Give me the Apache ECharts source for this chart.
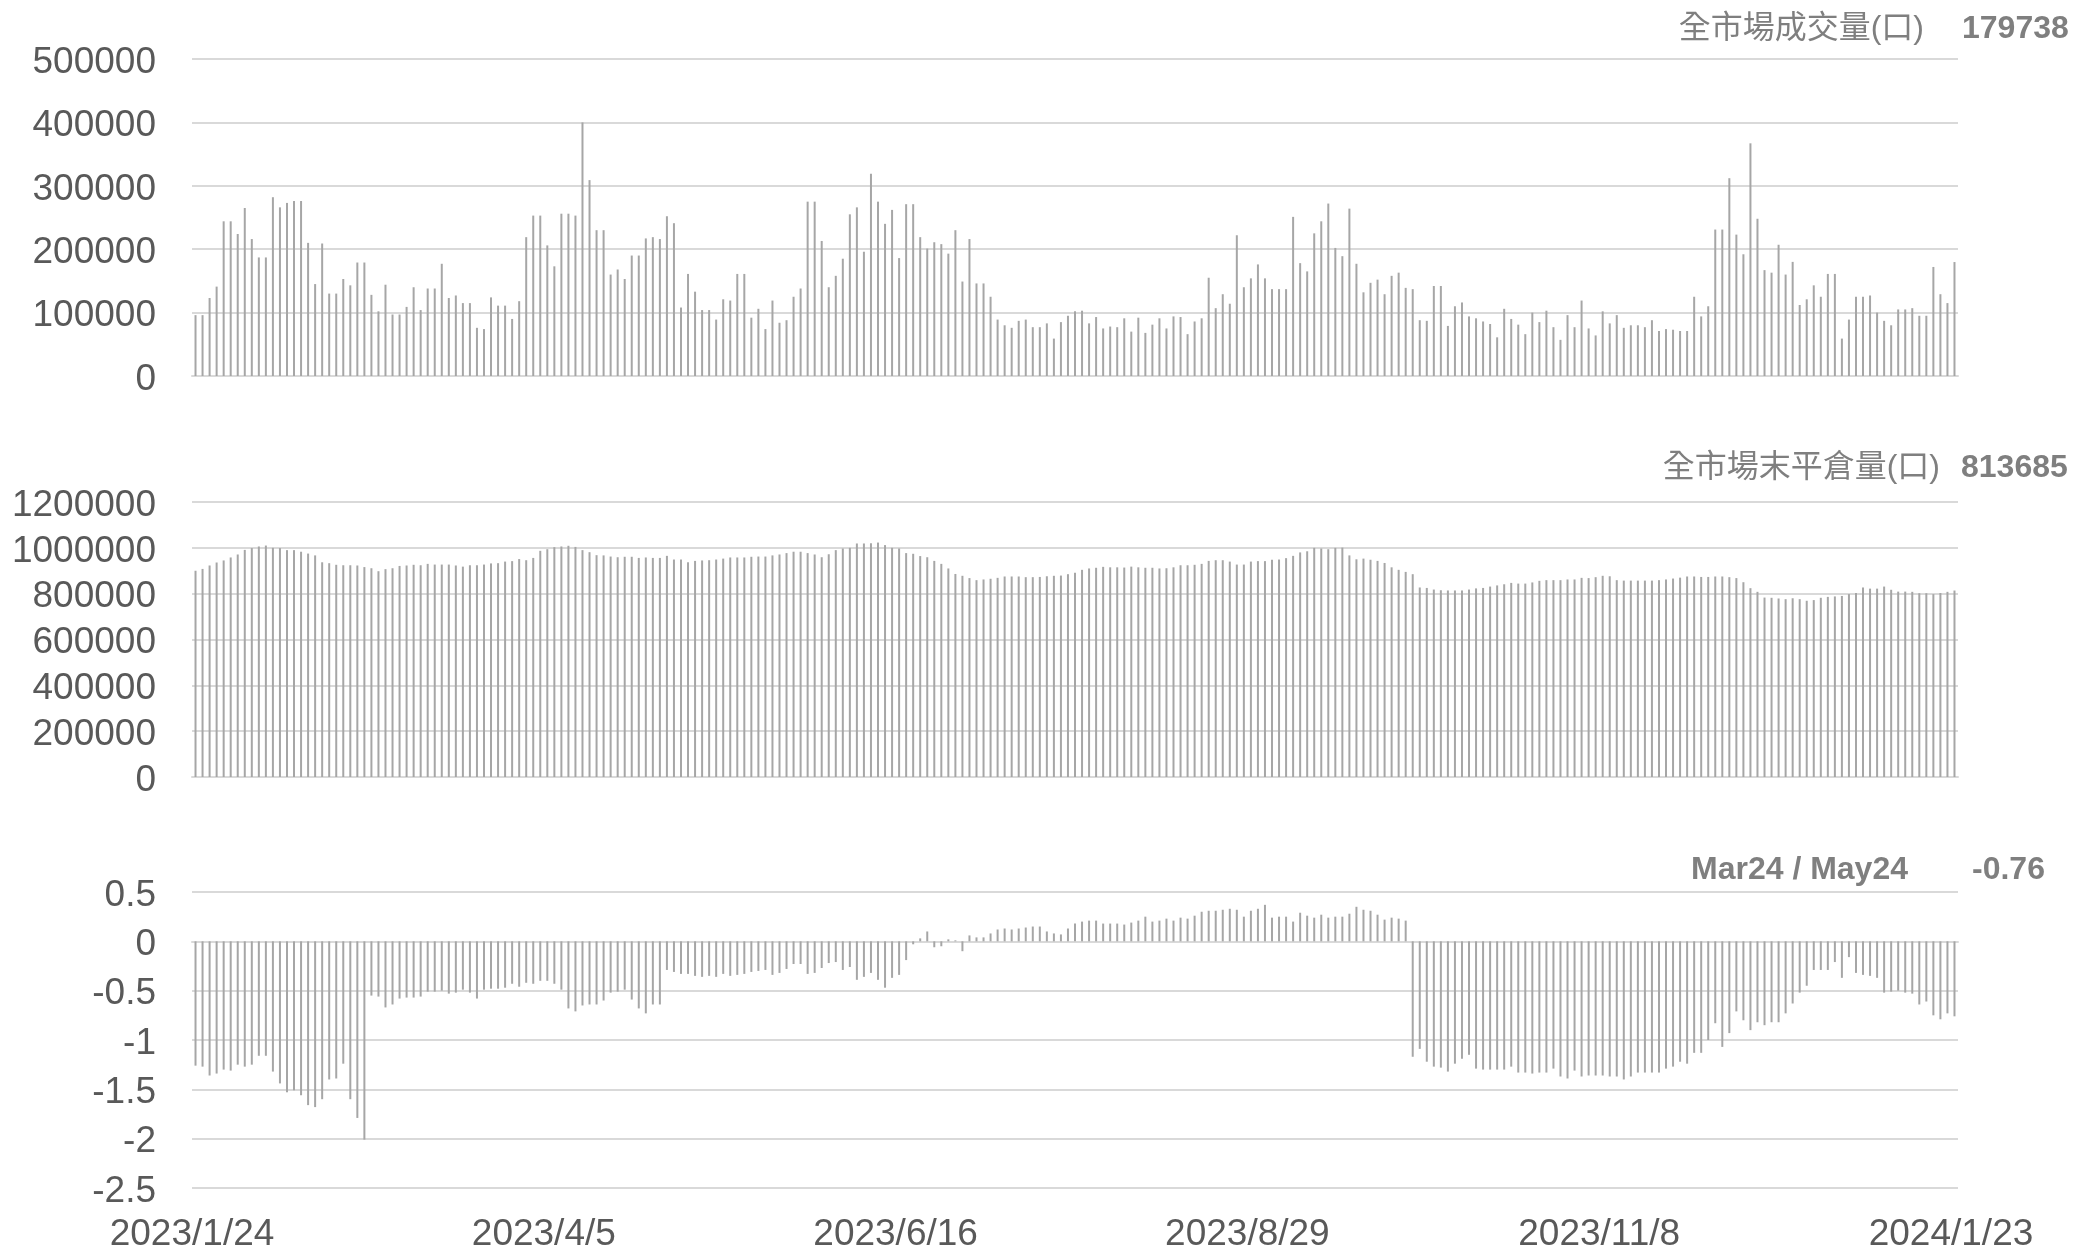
<!DOCTYPE html>
<html>
<head>
<meta charset="utf-8">
<script src="https://cdn.jsdelivr.net/npm/echarts@6/dist/echarts.min.js"></script>
<style>
  body { margin: 0; background: #fff; }
  #main { width: 2073px; height: 1249px; }
</style>
</head>
<body>
<div id="main"></div>
<script>
// trading calendar (US exchange holidays skipped)
var startDate = [2023, 0, 24];
var dayCount = 251;
var holidays = ['2023-02-20', '2023-04-07', '2023-05-29', '2023-06-19', '2023-07-04',
    '2023-09-04', '2023-11-23', '2023-12-25', '2024-01-01', '2024-01-15'];

// 全市場成交量(口)
var volume = [
    96000, 96000, 123000, 141000, 244000, 244000, 224000, 265000, 216000, 187000,
    187000, 282000, 266000, 273000, 276000, 276000, 210000, 145000, 209000, 130000,
    130000, 153000, 143000, 179000, 179000, 128000, 102000, 144000, 97000, 97000,
    109000, 140000, 104000, 138000, 138000, 177000, 123000, 127000, 115000, 115000,
    76000, 74000, 124000, 111000, 111000, 90000, 118000, 219000, 253000, 253000,
    206000, 173000, 256000, 256000, 253000, 400000, 309000, 230000, 230000, 160000,
    168000, 153000, 190000, 190000, 217000, 219000, 216000, 252000, 241000, 108000,
    161000, 133000, 104000, 104000, 89000, 121000, 119000, 161000, 161000, 92000,
    106000, 74000, 119000, 84000, 88000, 125000, 138000, 275000, 275000, 213000,
    140000, 158000, 185000, 255000, 266000, 196000, 319000, 275000, 240000, 262000,
    186000, 271000, 271000, 219000, 201000, 211000, 208000, 193000, 230000, 149000,
    216000, 146000, 146000, 125000, 89000, 80000, 76000, 87000, 89000, 77000,
    77000, 83000, 59000, 85000, 95000, 102000, 103000, 83000, 93000, 75000,
    78000, 77000, 91000, 70000, 92000, 68000, 81000, 91000, 75000, 94000,
    93000, 66000, 86000, 91000, 155000, 107000, 129000, 114000, 222000, 140000,
    154000, 176000, 154000, 137000, 137000, 137000, 251000, 178000, 165000, 225000,
    244000, 272000, 202000, 189000, 264000, 177000, 132000, 147000, 152000, 129000,
    158000, 163000, 139000, 137000, 88000, 87000, 142000, 142000, 79000, 110000,
    116000, 94000, 91000, 86000, 82000, 61000, 106000, 90000, 81000, 66000,
    100000, 85000, 103000, 77000, 57000, 96000, 77000, 119000, 75000, 64000,
    102000, 83000, 96000, 76000, 80000, 80000, 77000, 88000, 71000, 74000,
    73000, 71000, 71000, 125000, 94000, 110000, 231000, 231000, 312000, 223000,
    192000, 367000, 248000, 167000, 163000, 207000, 160000, 180000, 112000, 121000,
    143000, 125000, 161000, 161000, 59000, 89000, 125000, 125000, 127000, 100000,
    87000, 80000, 105000, 105000, 107000, 95000, 95000, 172000, 129000, 115000,
    179738
];

// 全市場末平倉量(口)
var openInterest = [
    900000, 908000, 923000, 936000, 945000, 958000, 971000, 991000, 999000, 1006000,
    1010000, 1000000, 999000, 990000, 990000, 983000, 975000, 967000, 937000, 933000,
    926000, 924000, 924000, 923000, 916000, 911000, 898000, 907000, 911000, 921000,
    923000, 926000, 924000, 930000, 927000, 927000, 927000, 923000, 918000, 924000,
    924000, 927000, 932000, 933000, 940000, 942000, 951000, 946000, 956000, 987000,
    994000, 1003000, 1006000, 1009000, 1004000, 990000, 981000, 968000, 967000, 962000,
    959000, 961000, 961000, 956000, 958000, 956000, 956000, 965000, 949000, 949000,
    937000, 943000, 945000, 946000, 949000, 953000, 958000, 958000, 958000, 961000,
    962000, 962000, 967000, 971000, 977000, 983000, 983000, 977000, 971000, 959000,
    972000, 990000, 997000, 1000000, 1019000, 1019000, 1020000, 1023000, 1012000, 1000000,
    997000, 977000, 974000, 964000, 959000, 943000, 930000, 910000, 886000, 878000,
    868000, 859000, 862000, 865000, 869000, 875000, 875000, 875000, 872000, 872000,
    873000, 876000, 878000, 879000, 885000, 891000, 904000, 910000, 913000, 917000,
    915000, 915000, 914000, 918000, 915000, 913000, 913000, 910000, 911000, 915000,
    924000, 924000, 926000, 930000, 943000, 946000, 946000, 940000, 927000, 927000,
    940000, 942000, 942000, 948000, 949000, 955000, 965000, 980000, 985000, 1000000,
    997000, 994000, 1000000, 1001000, 967000, 950000, 953000, 948000, 943000, 934000,
    915000, 904000, 895000, 885000, 827000, 825000, 818000, 815000, 814000, 814000,
    814000, 818000, 823000, 825000, 831000, 836000, 841000, 847000, 844000, 844000,
    849000, 856000, 859000, 859000, 859000, 862000, 862000, 869000, 868000, 872000,
    878000, 876000, 859000, 857000, 857000, 857000, 857000, 857000, 859000, 862000,
    866000, 870000, 875000, 875000, 873000, 873000, 875000, 875000, 872000, 868000,
    850000, 824000, 808000, 783000, 782000, 779000, 776000, 780000, 776000, 769000,
    772000, 782000, 786000, 788000, 790000, 798000, 803000, 827000, 822000, 822000,
    831000, 817000, 809000, 809000, 808000, 802000, 802000, 798000, 803000, 808000,
    813685
];

// Mar24 / May24
var spread = [
    -1.26, -1.27, -1.36, -1.34, -1.30, -1.31, -1.25, -1.27, -1.25, -1.16,
    -1.16, -1.32, -1.44, -1.53, -1.51, -1.56, -1.66, -1.68, -1.60, -1.40,
    -1.39, -1.24, -1.60, -1.79, -2.01, -0.55, -0.56, -0.67, -0.64, -0.58,
    -0.57, -0.57, -0.56, -0.51, -0.51, -0.50, -0.53, -0.52, -0.49, -0.52,
    -0.58, -0.49, -0.48, -0.48, -0.47, -0.43, -0.46, -0.42, -0.43, -0.40,
    -0.40, -0.43, -0.49, -0.68, -0.71, -0.65, -0.64, -0.64, -0.60, -0.52,
    -0.51, -0.49, -0.59, -0.68, -0.73, -0.64, -0.64, -0.29, -0.31, -0.33,
    -0.33, -0.35, -0.36, -0.35, -0.36, -0.33, -0.35, -0.34, -0.33, -0.31,
    -0.30, -0.29, -0.34, -0.32, -0.28, -0.23, -0.23, -0.33, -0.32, -0.27,
    -0.22, -0.21, -0.29, -0.26, -0.39, -0.36, -0.32, -0.39, -0.47, -0.37,
    -0.34, -0.19, -0.03, 0.03, 0.10, -0.06, -0.05, 0.02, 0.01, -0.10,
    0.06, 0.04, 0.04, 0.08, 0.12, 0.13, 0.12, 0.13, 0.14, 0.15,
    0.15, 0.10, 0.08, 0.07, 0.13, 0.18, 0.20, 0.21, 0.21, 0.18,
    0.18, 0.18, 0.17, 0.19, 0.21, 0.25, 0.20, 0.21, 0.23, 0.21,
    0.24, 0.23, 0.26, 0.30, 0.31, 0.31, 0.32, 0.33, 0.32, 0.25,
    0.31, 0.33, 0.37, 0.24, 0.25, 0.25, 0.20, 0.29, 0.26, 0.24,
    0.27, 0.24, 0.25, 0.25, 0.28, 0.35, 0.32, 0.31, 0.27, 0.22,
    0.24, 0.23, 0.21, -1.17, -1.09, -1.22, -1.27, -1.28, -1.32, -1.24,
    -1.19, -1.15, -1.29, -1.30, -1.30, -1.30, -1.30, -1.27, -1.33, -1.33,
    -1.34, -1.33, -1.33, -1.29, -1.37, -1.39, -1.31, -1.37, -1.36, -1.36,
    -1.36, -1.37, -1.37, -1.40, -1.37, -1.33, -1.33, -1.33, -1.33, -1.29,
    -1.27, -1.22, -1.24, -1.13, -1.13, -1.00, -0.83, -1.07, -0.93, -0.71,
    -0.80, -0.90, -0.82, -0.85, -0.82, -0.82, -0.73, -0.63, -0.52, -0.45,
    -0.29, -0.29, -0.29, -0.21, -0.37, -0.16, -0.32, -0.34, -0.35, -0.37,
    -0.52, -0.51, -0.50, -0.52, -0.53, -0.64, -0.61, -0.75, -0.79, -0.73,
    -0.76
];

var titles = ['全市場成交量(口)', '全市場末平倉量(口)', 'Mar24 / May24'];
var lastValues = ['179738', '813685', '-0.76'];

function tradingDays() {
    var out = [];
    var d = new Date(Date.UTC(startDate[0], startDate[1], startDate[2]));
    while (out.length < dayCount) {
        var wd = d.getUTCDay();
        var iso = d.toISOString().slice(0, 10);
        if (wd !== 0 && wd !== 6 && holidays.indexOf(iso) < 0) {
            out.push(d.getUTCFullYear() + '/' + (d.getUTCMonth() + 1) + '/' + d.getUTCDate());
        }
        d.setUTCDate(d.getUTCDate() + 1);
    }
    return out;
}

var dates = tradingDays();

var font = 'Liberation Sans, Arial, Noto Sans CJK TC, sans-serif';
var gridColor = '#d9d9d9';
var labelColor = '#595959';
var barColor = '#a6a6a6';
var axisFontSize = 37;

var myChart = echarts.init(document.getElementById('main'));

function baseX(gridIndex) {
    return {
        type: 'category',
        gridIndex: gridIndex,
        data: dates,
        boundaryGap: true,
        axisLine: { lineStyle: { color: gridColor, width: 2 } },
        axisTick: { interval: 49, length: 11, lineStyle: { color: gridColor, width: 2 } },
        axisLabel: { show: false },
        splitLine: { show: false }
    };
}

function baseY(gridIndex, min, max, interval) {
    return {
        type: 'value',
        gridIndex: gridIndex,
        min: min,
        max: max,
        interval: interval,
        axisLine: { show: false },
        axisTick: { show: false },
        axisLabel: {
            margin: 36,
            formatter: function (v) { return '{n|' + v + '}'; },
            rich: {
                n: {
                    color: labelColor,
                    fontSize: axisFontSize,
                    fontFamily: font,
                    padding: [7, 0, 0, 0]
                }
            }
        },
        splitLine: { lineStyle: { color: gridColor, width: 2 } }
    };
}

var spreadZeroAxis = baseX(2);
spreadZeroAxis.position = 'top';
spreadZeroAxis.axisLine.onZero = true;
spreadZeroAxis.axisTick.inside = true;

var dateAxis = baseX(2);
dateAxis.position = 'bottom';
dateAxis.axisLine = { show: false, onZero: false };
dateAxis.axisTick = { show: false };
dateAxis.axisLabel = {
    show: true,
    interval: 49,
    color: labelColor,
    fontSize: axisFontSize,
    fontFamily: font,
    margin: 28,
    padding: [0, 7, 0, 0]
};

function titleText(text, x, y, align, bold) {
    return {
        type: 'text',
        x: x,
        y: y,
        style: {
            text: text,
            fill: '#7f7f7f',
            fontSize: 32,
            fontWeight: bold ? 'bold' : 'normal',
            fontFamily: font,
            align: align,
            verticalAlign: 'middle'
        }
    };
}

var option = {
    animation: false,
    backgroundColor: '#ffffff',
    grid: [
        { left: 192, top: 59, width: 1766, height: 317, outerBoundsMode: 'none' },
        { left: 192, top: 502, width: 1766, height: 275, outerBoundsMode: 'none' },
        { left: 192, top: 892, width: 1766, height: 296, outerBoundsMode: 'none' }
    ],
    xAxis: [baseX(0), baseX(1), spreadZeroAxis, dateAxis],
    yAxis: [
        baseY(0, 0, 500000, 100000),
        baseY(1, 0, 1200000, 200000),
        baseY(2, -2.5, 0.5, 0.5)
    ],
    graphic: [
        titleText(titles[0], 1924, 29, 'right', false),
        titleText(lastValues[0], 1962, 29, 'left', true),
        titleText(titles[1], 1940, 468, 'right', false),
        titleText(lastValues[1], 1961, 468, 'left', true),
        titleText(titles[2], 1908, 870, 'right', true),
        titleText(lastValues[2], 1972, 870, 'left', true)
    ],
    series: [
        { type: 'bar', xAxisIndex: 0, yAxisIndex: 0, data: volume, barWidth: 2, itemStyle: { color: barColor }, silent: true },
        { type: 'bar', xAxisIndex: 1, yAxisIndex: 1, data: openInterest, barWidth: 2, itemStyle: { color: barColor }, silent: true },
        { type: 'bar', xAxisIndex: 2, yAxisIndex: 2, data: spread, barWidth: 2, itemStyle: { color: barColor }, silent: true }
    ]
};

myChart.setOption(option);
</script>
</body>
</html>
